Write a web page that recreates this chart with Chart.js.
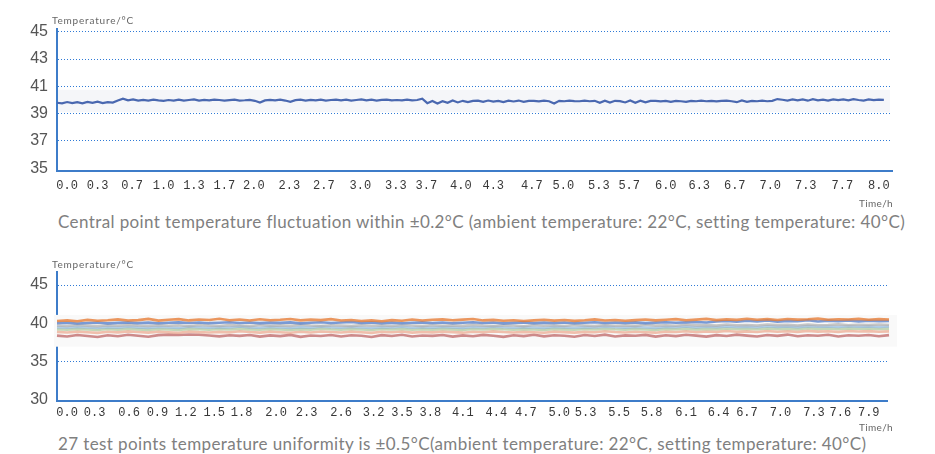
<!DOCTYPE html>
<html>
<head>
<meta charset="utf-8">
<script src="https://cdn.jsdelivr.net/npm/chart.js@4"></script>
<style>
  body { margin: 0; background: #fff; }
  #wrap { position: relative; width: 935px; height: 454px; overflow: hidden; }
  canvas { position: absolute; left: 0; }
  .txt { position: absolute; white-space: nowrap; font-family: Lato, "Open Sans", sans-serif; color: #808080; }
  .unit { font-size: 10px; line-height: 12px; color: #666; }
  .cap { font-size: 17px; line-height: 17px; }
</style>
</head>
<body>
<div id="wrap">
  <canvas id="chart1" width="935" height="200" style="top:0"></canvas>
  <canvas id="chart2" width="935" height="190" style="top:240px"></canvas>

  <div class="txt unit" id="yTitle1" style="left:52px;top:14px">Temperature/°C</div>
  <div class="txt unit" id="xTitle1" style="left:859px;top:197px">Time/h</div>
  <div class="txt cap" id="cap1" style="left:58px;top:213px">Central point temperature fluctuation within ±0.2°C (ambient temperature: 22°C, setting temperature: 40°C)</div>

  <div class="txt unit" id="yTitle2" style="left:52px;top:258px">Temperature/°C</div>
  <div class="txt unit" id="xTitle2" style="left:859px;top:421px">Time/h</div>
  <div class="txt cap" id="cap2" style="left:58px;top:435px">27 test points temperature uniformity is ±0.5°C(ambient temperature: 22°C, setting temperature: 40°C)</div>
</div>

<script>
// ---- datos grafico 1 (punto central, muestra cada 0.05 h) ----
const step1 = 0.05;
const centralTemp = [
  39.80, 39.75, 39.85, 39.77, 39.84, 39.76, 39.86, 39.79, 39.88, 39.78, 39.85, 39.81,
  39.96, 40.10, 39.97,
  40.04, 39.95, 40.01, 39.96, 40.02, 39.97, 39.94, 40.00, 39.96, 40.03, 39.95, 40.00, 40.04, 39.96, 40.01,
  39.97, 40.03, 40.00, 39.95, 39.99, 40.02, 39.96, 39.98, 40.01, 39.94, 39.81, 39.97, 40.01, 39.97, 40.02, 39.96,
  39.87, 39.99, 40.03, 39.96, 40.01, 39.97, 40.02, 39.95, 40.00, 40.03, 39.97, 40.02, 39.96, 40.00, 40.04,
  39.98, 40.02, 39.96, 40.01, 40.03, 39.97, 40.00, 39.98, 40.03, 39.97, 40.00,
  40.09,
  39.77, 39.93, 39.74, 39.91, 39.79, 39.96, 39.82, 39.94, 39.85, 39.93,
  39.95, 39.86, 39.96, 39.88, 39.94, 39.85, 39.95, 39.89, 39.96, 39.87, 39.94,
  39.93, 39.90, 39.95, 39.91, 39.75, 39.94, 39.91, 39.95, 39.92, 39.91, 39.95, 39.91, 39.94, 39.79, 39.95, 39.81, 39.94,
  39.92, 39.82, 39.97, 39.80, 39.95, 39.83, 39.93, 39.94, 39.90, 39.94, 39.86, 39.94, 39.91, 39.87,
  39.94, 39.91, 39.95, 39.91, 39.94, 39.90, 39.94, 39.95, 39.91, 39.84, 39.97, 39.87, 39.94, 39.91, 39.95, 39.91, 39.94,
  40.07,
  40.02, 39.96, 40.05, 39.97, 40.04, 39.95, 40.06, 39.98, 40.03, 39.96, 40.05, 39.99, 40.04, 39.97, 40.06, 40.00, 39.96, 40.04, 39.99, 40.03, 40.01
];
const yTicks1 = [35, 37, 39, 41, 43, 45];
const xTickLabels1 = ['0.0','0.3','0.7','1.0','1.3','1.7','2.0','2.3','2.7','3.0','3.3','3.7','4.0',
  '4.3','4.7','5.0','5.3','5.7','6.0','6.3','6.7','7.0','7.3','7.7','8.0'];
const xTickPos1 = [0.10, 0.40, 0.74, 1.05, 1.35, 1.65, 1.94, 2.29, 2.63, 2.99, 3.34, 3.64, 3.98,
  4.30, 4.68, 4.99, 5.34, 5.64, 6.00, 6.33, 6.68, 7.03, 7.38, 7.74, 8.10];

// ---- datos grafico 2 (puntos de prueba, muestra cada 0.1 h) ----
const step2 = 0.1;
const pointOrange = [
  40.30, 40.38, 40.28, 40.45, 40.33, 40.40, 40.52, 40.36, 40.42, 40.58,
  40.35, 40.47, 40.55, 40.38, 40.50, 40.44, 40.60, 40.41, 40.49, 40.37,
  40.53, 40.40, 40.46, 40.57, 40.39, 40.48, 40.42, 40.55, 40.36, 40.44,
  40.31, 40.39, 40.28, 40.42, 40.34, 40.50, 40.37, 40.46, 40.52, 40.40,
  40.48, 40.56, 40.38, 40.45, 40.33, 40.41, 40.30, 40.38, 40.47, 40.35,
  40.43, 40.32, 40.40, 40.51, 40.36, 40.44, 40.34, 40.42, 40.49, 40.38,
  40.46, 40.55, 40.40, 40.48, 40.58, 40.42, 40.52, 40.45, 40.60, 40.47,
  40.55, 40.43, 40.57, 40.48, 40.53, 40.61, 40.46, 40.54, 40.50, 40.58,
  40.47, 40.55, 40.50
];
const pointBlue = [
  40.02, 40.08, 39.98, 40.05, 40.10, 40.00, 40.06, 40.12, 40.03, 40.09,
  40.01, 40.07, 40.13, 40.04, 40.10, 40.02, 40.08, 40.15, 40.05, 40.11,
  40.03, 40.09, 40.06, 40.12, 40.00, 40.07, 40.14, 40.04, 40.10, 40.18,
  40.06, 40.12, 40.03, 40.09, 40.01, 40.07, 40.13, 40.05, 40.11, 40.02,
  40.08, 40.14, 40.04, 40.10, 40.00, 40.06, 40.12, 40.03, 40.09, 40.05,
  40.11, 40.02, 40.08, 40.14, 40.04, 40.10, 40.06, 40.12, 40.03, 40.09,
  40.15, 40.07, 40.13, 40.18, 40.10, 40.24, 40.30, 40.20, 40.34, 40.26,
  40.38, 40.22, 40.32, 40.28, 40.40, 40.24, 40.35, 40.27, 40.36, 40.25,
  40.33, 40.29, 40.31
];
const pointGray = [
  39.72, 39.66, 39.78, 39.70, 39.63, 39.75, 39.68, 39.80, 39.71, 39.65,
  39.77, 39.69, 39.74, 39.62, 39.79, 39.70, 39.66, 39.76, 39.72, 39.64,
  39.78, 39.69, 39.73, 39.67, 39.81, 39.71, 39.65, 39.75, 39.70, 39.63,
  39.77, 39.68, 39.74, 39.66, 39.79, 39.72, 39.64, 39.76, 39.69, 39.73,
  39.67, 39.80, 39.70, 39.65, 39.75, 39.71, 39.62, 39.78, 39.68, 39.74,
  39.66, 39.79, 39.72, 39.64, 39.76, 39.69, 39.73, 39.67, 39.81, 39.70,
  39.75, 39.68, 39.82, 39.73, 39.77, 39.70, 39.84, 39.74, 39.79, 39.71,
  39.85, 39.76, 39.80, 39.72, 39.83, 39.75, 39.78, 39.86, 39.74, 39.81,
  39.77, 39.84, 39.79
];
const pointLightBlue = [
  39.48, 39.42, 39.53, 39.45, 39.39, 39.50, 39.44, 39.56, 39.47, 39.41,
  39.52, 39.46, 39.40, 39.55, 39.48, 39.43, 39.51, 39.45, 39.58, 39.47,
  39.42, 39.53, 39.46, 39.40, 39.50, 39.44, 39.57, 39.48, 39.43, 39.52,
  39.45, 39.39, 39.51, 39.46, 39.55, 39.42, 39.49, 39.44, 39.53, 39.47,
  39.41, 39.52, 39.45, 39.56, 39.48, 39.43, 39.50, 39.46, 39.40, 39.54,
  39.47, 39.42, 39.51, 39.45, 39.57, 39.48, 39.44, 39.52, 39.46, 39.41,
  39.53, 39.49, 39.58, 39.47, 39.55, 39.50, 39.60, 39.52, 39.57, 39.49,
  39.61, 39.54, 39.58, 39.51, 39.63, 39.55, 39.59, 39.52, 39.62, 39.56,
  39.60, 39.53, 39.58
];
const pointGreen = [
  39.22, 39.16, 39.27, 39.19, 39.13, 39.25, 39.18, 39.29, 39.21, 39.15,
  39.26, 39.20, 39.14, 39.28, 39.22, 39.17, 39.25, 39.19, 39.31, 39.21,
  39.16, 39.27, 39.20, 39.14, 39.24, 39.18, 39.30, 39.22, 39.17, 39.26,
  39.19, 39.13, 39.25, 39.20, 39.28, 39.16, 39.23, 39.18, 39.27, 39.21,
  39.15, 39.26, 39.19, 39.30, 39.22, 39.17, 39.24, 39.20, 39.14, 39.27,
  39.21, 39.16, 39.25, 39.19, 39.30, 39.22, 39.18, 39.26, 39.20, 39.15,
  39.27, 39.23, 39.31, 39.21, 39.28, 39.24, 39.33, 39.25, 39.30, 39.22,
  39.34, 39.27, 39.31, 39.24, 39.35, 39.28, 39.32, 39.25, 39.34, 39.29,
  39.33, 39.26, 39.31
];
const pointSalmon = [
  38.88, 38.80, 38.92, 38.84, 38.76, 38.90, 38.82, 38.95, 38.86, 38.79,
  38.91, 38.83, 38.77, 38.93, 38.85, 38.80, 38.89, 38.82, 38.96, 38.86,
  38.79, 38.92, 38.84, 38.77, 38.90, 38.81, 38.94, 38.86, 38.80, 38.91,
  38.83, 38.76, 38.89, 38.84, 38.93, 38.79, 38.87, 38.82, 38.92, 38.85,
  38.78, 38.90, 38.83, 38.95, 38.86, 38.80, 38.88, 38.84, 38.77, 38.92,
  38.85, 38.79, 38.89, 38.83, 38.96, 38.86, 38.81, 38.90, 38.84, 38.78,
  38.92, 38.87, 38.97, 38.85, 38.93, 38.88, 38.99, 38.90, 38.95, 38.86,
  39.00, 38.91, 38.96, 38.88, 39.01, 38.92, 38.97, 38.89, 39.00, 38.93,
  38.98, 38.90, 38.95
];
const pointRed = [
  38.40, 38.28, 38.47, 38.35, 38.22, 38.44, 38.31, 38.50, 38.38, 38.25,
  38.46, 38.52, 38.48, 38.55, 38.50, 38.42, 38.30, 38.45, 38.36, 38.48,
  38.27, 38.43, 38.33, 38.49, 38.24, 38.41, 38.35, 38.47, 38.29, 38.44,
  38.38, 38.22, 38.46, 38.34, 38.50, 38.28, 38.42, 38.36, 38.48, 38.26,
  38.43, 38.31, 38.49, 38.37, 38.23, 38.45, 38.33, 38.51, 38.30, 38.44,
  38.38, 38.25, 38.47, 38.35, 38.52, 38.29, 38.43, 38.37, 38.49, 38.27,
  38.45, 38.33, 38.50, 38.39, 38.26, 38.46, 38.34, 38.52, 38.40, 38.28,
  38.47, 38.36, 38.53, 38.31, 38.45, 38.38, 38.51, 38.29, 38.44, 38.37,
  38.48, 38.32, 38.46
];
const yTicks2 = [30, 35, 40, 45];
const xTickLabels2 = ['0.0','0.3','0.6','0.9','1.2','1.5','1.8','2.0','2.3','2.6','3.2','3.5','3.8','4.1',
  '4.4','4.7','5.0','5.3','5.5','5.8','6.1','6.4','6.7','7.0','7.3','7.6','7.9'];
const xTickPos2 = [0.10, 0.37, 0.71, 0.99, 1.27, 1.55, 1.82, 2.16, 2.46, 2.80, 3.12, 3.40, 3.68, 4.00,
  4.33, 4.62, 4.95, 5.21, 5.54, 5.86, 6.20, 6.52, 6.80, 7.13, 7.46, 7.72, 8.00];

const axisBlue = '#3d7cc9';
const gridBlue = '#2f7ad6';

// fondo claro detras de las curvas (tapa la rejilla y el eje como en la imagen)
const bandPlugin = {
    id: 'band',
    beforeDatasetsDraw(chart, args, opts) {
        const { ctx, chartArea, scales } = chart;
        const yTop = scales.y.getPixelForValue(opts.high);
        const yBot = scales.y.getPixelForValue(opts.low);
        ctx.save();
        ctx.fillStyle = opts.color;
        ctx.fillRect(chartArea.left + opts.padLeft, yTop, chartArea.width - opts.padLeft + opts.padRight, yBot - yTop);
        ctx.restore();
    }
};

function toPoints(values, step) {
    return values.map((v, i) => ({ x: i * step, y: v }));
}

function makeOptions(cfg) {
    return {
        responsive: false,
        animation: false,
        layout: { padding: { top: cfg.padTop, right: cfg.padRight, left: 0, bottom: 0 } },
        plugins: {
            legend: { display: false },
            tooltip: { enabled: false },
            band: cfg.band
        },
        elements: { point: { radius: 0 }, line: { tension: 0 } },
        scales: {
            x: {
                type: 'linear',
                min: 0,
                max: cfg.xMax,
                afterFit: s => { s.height = cfg.xHeight; },
                afterBuildTicks: s => { s.ticks = cfg.xPos.map(v => ({ value: v })); },
                grid: { display: false, drawTicks: false },
                border: { display: true, color: axisBlue, width: 2 },
                ticks: {
                    autoSkip: false,
                    maxRotation: 0,
                    padding: cfg.xPad,
                    color: '#383838',
                    font: { family: '"Liberation Mono", "DejaVu Sans Mono", monospace', size: 12 },
                    callback: (v, i) => cfg.xLabels[i]
                }
            },
            y: {
                min: cfg.yMin,
                max: cfg.yMax,
                afterFit: s => { s.width = 57; },
                afterBuildTicks: s => { s.ticks = cfg.yTicks.map(v => ({ value: v })); },
                grid: {
                    drawTicks: false,
                    lineWidth: 1,
                    color: c => (c.tick && c.tick.value === cfg.yTicks[0]) ? 'rgba(0,0,0,0)' : gridBlue
                },
                border: { display: true, color: axisBlue, width: 2, dash: [1, 2] },
                ticks: {
                    padding: 9,
                    color: '#555',
                    font: { family: '"Liberation Sans", Arial, sans-serif', size: 16 },
                    callback: v => String(v)
                }
            }
        }
    };
}

new Chart(document.getElementById('chart1'), {
    type: 'line',
    data: {
        datasets: [{
            label: 'Central point',
            data: toPoints(centralTemp, step1),
            borderColor: '#4a68b0',
            borderWidth: 2.2
        }]
    },
    options: makeOptions({
        padTop: 29, padRight: 43, xMax: 8.23, xHeight: 29, xPad: 8,
        xPos: xTickPos1, xLabels: xTickLabels1,
        yMin: 34.8, yMax: 45.2, yTicks: yTicks1,
        band: { low: 39.1, high: 40.75, color: '#f5f6f9', padLeft: 1, padRight: -2 }
    }),
    plugins: [bandPlugin]
});

const series2 = [
    { label: 'Punto naranja', data: pointOrange, color: 'rgba(230,125,55,0.8)' },
    { label: 'Punto azul', data: pointBlue, color: 'rgba(68,114,196,0.7)' },
    { label: 'Punto gris', data: pointGray, color: 'rgba(170,170,170,0.65)' },
    { label: 'Punto celeste', data: pointLightBlue, color: 'rgba(120,170,215,0.55)' },
    { label: 'Punto verde', data: pointGreen, color: 'rgba(150,185,130,0.55)' },
    { label: 'Punto salmon', data: pointSalmon, color: 'rgba(235,160,130,0.65)' },
    { label: 'Punto rojo', data: pointRed, color: 'rgba(190,100,100,0.75)' }
];

new Chart(document.getElementById('chart2'), {
    type: 'line',
    data: {
        datasets: series2.map(s => ({
            label: s.label,
            data: toPoints(s.data, step2),
            borderColor: s.color,
            borderWidth: 2.6,
            clip: false
        }))
    },
    options: makeOptions({
        padTop: 32, padRight: 48, xMax: 8.18, xHeight: 29.3, xPad: 5,
        xPos: xTickPos2, xLabels: xTickLabels2,
        yMin: 29.9, yMax: 46.7, yTicks: yTicks2,
        band: { low: 36.95, high: 41.1, color: '#f9f9f9', padLeft: -3, padRight: 10 }
    }),
    plugins: [bandPlugin]
});

// ajustar ancho de los textos al de la imagen
function fitWidth(id, target) {
    const el = document.getElementById(id);
    el.style.letterSpacing = '0px';
    const w = el.getBoundingClientRect().width;
    el.style.letterSpacing = ((target - w) / el.textContent.length) + 'px';
}
fitWidth('cap1', 847);
fitWidth('cap2', 808);
fitWidth('yTitle1', 82);
fitWidth('yTitle2', 82);
fitWidth('xTitle1', 34);
fitWidth('xTitle2', 34);
</script>
</body>
</html>
